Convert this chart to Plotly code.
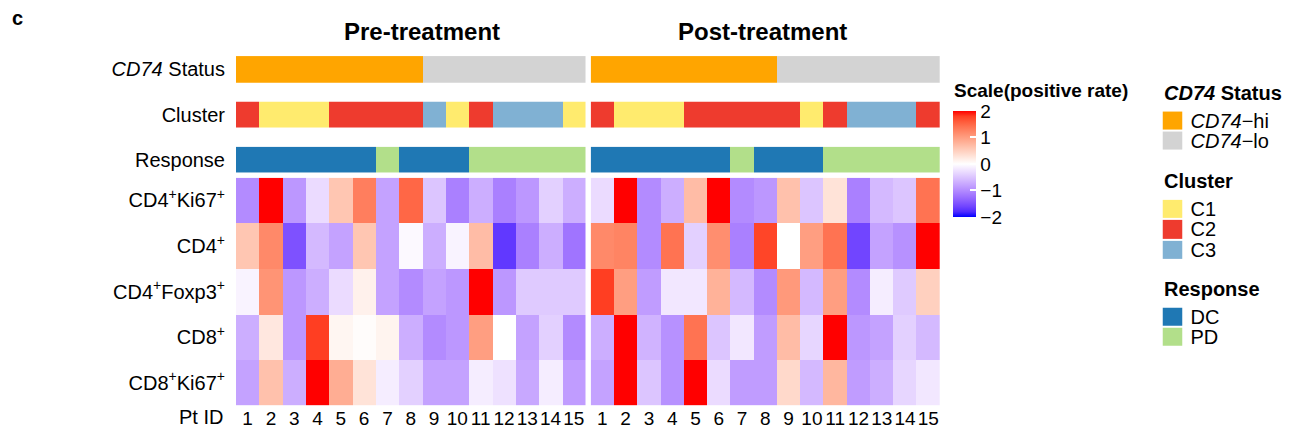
import numpy as np
import plotly.graph_objects as go

# ---------------- data ----------------
pt_ids = list(range(1, 16))
marker_labels = [
    "CD4<sup>+</sup>Ki67<sup>+</sup>",
    "CD4<sup>+</sup>",
    "CD4<sup>+</sup>Foxp3<sup>+</sup>",
    "CD8<sup>+</sup>",
    "CD8<sup>+</sup>Ki67<sup>+</sup>",
]

pre_values = [
    [-1.0, 2.4, -0.9, -0.3, 0.6, 1.3, -0.8, 1.5, -0.5, -1.1, -0.7, -1.1, -0.9, -0.4, -0.7],
    [0.6, 1.2, -1.5, -0.6, -0.8, 0.6, -0.8, -0.05, -0.7, -0.1, 0.7, -1.7, -1.1, -0.7, -1.2],
    [-0.1, 1.1, -0.9, -0.7, -0.3, 0.15, -0.8, -1.0, -0.8, -0.9, 2.4, -0.9, -0.45, -0.45, -0.45],
    [-0.7, 0.25, -0.9, 1.8, 0.1, 0.03, 0.12, -0.7, -1.0, -0.9, 1.0, 0.0, -0.8, -0.4, -1.0],
    [-0.8, 0.65, -0.7, 2.4, 0.85, 0.3, -0.15, -0.4, -0.8, -0.8, -0.15, -0.25, -0.75, -0.15, -0.85],
]

post_values = [
    [-0.3, 2.4, -1.0, -0.7, 0.7, 2.4, -1.0, -0.9, 0.65, -0.5, 0.3, -1.1, -0.6, -0.5, 1.4],
    [1.2, 1.25, -1.0, 1.4, -0.4, 1.15, -1.1, 1.75, 0.0, 1.0, 1.4, -1.6, -0.8, -0.95, 2.2],
    [1.8, 1.0, -0.85, -0.2, -0.2, 0.8, -0.6, -1.0, 1.05, -0.6, 1.0, -1.0, -0.15, -0.45, 0.5],
    [-0.7, 2.4, -0.65, -0.95, 1.4, -0.5, -0.2, -0.85, 0.7, -0.35, 2.4, -0.9, -0.8, -0.4, -0.6],
    [-0.8, 2.4, -0.5, -0.95, 2.4, -0.3, -0.85, -0.85, 0.4, -0.6, 0.75, -0.85, -0.7, -0.35, -0.2],
]

cd74_levels = ["CD74-hi", "CD74-lo"]
cd74_labels = ["<i>CD74</i>\u2212hi", "<i>CD74</i>\u2212lo"]
cd74_colors = ["#FFA500", "#D3D3D3"]
cluster_levels = ["C1", "C2", "C3"]
cluster_colors = ["#FFEB6E", "#EE3B2E", "#80B1D3"]
response_levels = ["DC", "PD"]
response_colors = ["#1F78B4", "#B2DF8A"]

pre_cd74 = ["CD74-hi"] * 8 + ["CD74-lo"] * 7
post_cd74 = ["CD74-hi"] * 8 + ["CD74-lo"] * 7
pre_cluster = ["C2", "C1", "C1", "C1", "C2", "C2", "C2", "C2", "C3", "C1", "C2", "C3", "C3", "C3", "C1"]
post_cluster = ["C2", "C1", "C1", "C1", "C2", "C2", "C2", "C2", "C2", "C1", "C2", "C3", "C3", "C3", "C2"]
pre_response = ["DC"] * 6 + ["PD"] + ["DC"] * 3 + ["PD"] * 5
post_response = ["DC"] * 6 + ["PD"] + ["DC"] * 3 + ["PD"] * 5

# ---------------- helpers ----------------
PAGE_W, PAGE_H = 1295, 437
OFF = 8  # default body margin of the html page
W, H = PAGE_W - 2 * OFF, PAGE_H - 2 * OFF


def fx(px):
    return (px - OFF) / W


def fy(py):
    return 1 - (py - OFF) / H


def srgb_to_lab(rgb):
    c = np.array(rgb, dtype=float) / 255.0
    c = np.where(c > 0.04045, ((c + 0.055) / 1.055) ** 2.4, c / 12.92)
    M = np.array([[0.4124, 0.3576, 0.1805], [0.2126, 0.7152, 0.0722], [0.0193, 0.1192, 0.9505]])
    xyz = M @ c
    xyz = xyz / np.array([0.95047, 1.0, 1.08883])
    f = np.where(xyz > 0.008856, np.cbrt(xyz), 7.787 * xyz + 16 / 116)
    return np.array([116 * f[1] - 16, 500 * (f[0] - f[1]), 200 * (f[1] - f[2])])


def lab_to_srgb(lab):
    L, a, b = lab
    fyv = (L + 16) / 116
    fxv = fyv + a / 500
    fzv = fyv - b / 200
    f = np.array([fxv, fyv, fzv])
    xyz = np.where(f ** 3 > 0.008856, f ** 3, (f - 16 / 116) / 7.787)
    xyz = xyz * np.array([0.95047, 1.0, 1.08883])
    Minv = np.array([[3.2406, -1.5372, -0.4986], [-0.9689, 1.8758, 0.0415], [0.0557, -0.2040, 1.0570]])
    c = Minv @ xyz
    c = np.clip(c, 0, 1)
    c = np.where(c > 0.0031308, 1.055 * c ** (1 / 2.4) - 0.055, 12.92 * c)
    c = np.clip(c, 0, 1)
    return "rgb(%d,%d,%d)" % tuple(int(round(v * 255)) for v in c)


blue, white, red = srgb_to_lab((0, 0, 255)), srgb_to_lab((255, 255, 255)), srgb_to_lab((255, 0, 0))
heat_scale = []
n = 20
for i in range(n + 1):
    t = i / n
    if t <= 0.5:
        lab = blue + (white - blue) * (t / 0.5)
    else:
        lab = white + (red - white) * ((t - 0.5) / 0.5)
    heat_scale.append([t, lab_to_srgb(lab)])


def discrete_scale(colors):
    k = len(colors)
    scale = []
    for i, c in enumerate(colors):
        scale.append([i / k, c])
        scale.append([(i + 1) / k, c])
    return scale


def codes(values, levels):
    return [[levels.index(v) for v in values]]


FONT = "Arial, Liberation Sans, sans-serif"

fig = go.Figure()

# ---------------- main heatmaps ----------------
for values, xa, show in [(pre_values, "x", True), (post_values, "x2", False)]:
    fig.add_trace(go.Heatmap(
        z=values, x=pt_ids, y=list(range(len(marker_labels))),
        xaxis=xa, yaxis="y",
        colorscale=heat_scale, zmin=-2, zmax=2,
        showscale=show,
        colorbar=dict(
            x=fx(952.5), xanchor="left", xref="paper",
            y=fy(166), yanchor="middle", yref="paper",
            thickness=23, thicknessmode="pixels",
            len=106, lenmode="pixels",
            xpad=0, ypad=0, outlinewidth=0,
            tickvals=[-2, -1, 0, 1, 2],
            ticktext=["\u22122", "\u22121", "0", "1", "2"],
            ticks="inside", ticklen=6, tickcolor="white", tickwidth=1.5,
            tickfont=dict(size=19, color="black", family=FONT),
        ),
        hoverinfo="skip",
    ))

# ---------------- annotation bars ----------------
ann_rows = [
    ("y2", pre_cd74, post_cd74, cd74_levels, cd74_colors),
    ("y3", pre_cluster, post_cluster, cluster_levels, cluster_colors),
    ("y4", pre_response, post_response, response_levels, response_colors),
]
for ya, pre_v, post_v, levels, colors in ann_rows:
    for vals, xa in [(pre_v, "x"), (post_v, "x2")]:
        fig.add_trace(go.Heatmap(
            z=codes(vals, levels), x=pt_ids, y=[0],
            xaxis=xa, yaxis=ya,
            colorscale=discrete_scale(colors), zmin=-0.5, zmax=len(levels) - 0.5,
            showscale=False, hoverinfo="skip",
        ))

# ---------------- legend swatches ----------------
leg_groups = [
    ("y5", cd74_levels, cd74_labels, cd74_colors),
    ("y6", cluster_levels, cluster_levels, cluster_colors),
    ("y7", response_levels, response_levels, response_colors),
]
for ya, levels, labels, colors in leg_groups:
    fig.add_trace(go.Heatmap(
        z=[[i] for i in range(len(levels))], x=[0], y=list(range(len(levels))),
        xaxis="x3", yaxis=ya,
        colorscale=discrete_scale(colors), zmin=-0.5, zmax=len(levels) - 0.5,
        showscale=False, hoverinfo="skip", ygap=2,
    ))

# ---------------- layout ----------------
common_x = dict(range=[0.5, 15.5], showgrid=False, zeroline=False, showline=False,
                ticks="", tickvals=pt_ids, tickangle=0,
                tickfont=dict(size=19, color="black", family=FONT),
                fixedrange=True)
common_y = dict(showgrid=False, zeroline=False, showline=False, ticks="",
                tickfont=dict(size=20, color="black", family=FONT), fixedrange=True,
                ticklabelstandoff=10)

layout = dict(
    width=W, height=H,
    margin=dict(l=0, r=0, t=0, b=0),
    paper_bgcolor="white", plot_bgcolor="white",
    font=dict(family=FONT, color="black"),
    xaxis=dict(domain=[fx(236), fx(585.5)], anchor="y", **common_x),
    xaxis2=dict(domain=[fx(590.7), fx(940)], anchor="y", **common_x),
    xaxis3=dict(domain=[fx(1162.5), fx(1182.5)], anchor="y5", range=[-0.5, 0.5], visible=False),
    yaxis=dict(domain=[fy(412), fy(180)], anchor="x", range=[4.5, -0.5],
               tickvals=list(range(len(marker_labels))), ticktext=marker_labels, **common_y),
    yaxis2=dict(domain=[fy(83.3), fy(56)], anchor="x", range=[-0.5, 0.5],
                tickvals=[0], ticktext=["<i>CD74</i> Status"], **common_y),
    yaxis3=dict(domain=[fy(129.3), fy(102.3)], anchor="x", range=[-0.5, 0.5],
                tickvals=[0], ticktext=["Cluster"], **common_y),
    yaxis4=dict(domain=[fy(175), fy(148.3)], anchor="x", range=[-0.5, 0.5],
                tickvals=[0], ticktext=["Response"], **common_y),
)

leg_domains = [(111.5, 152.5), (201.5, 263.5), (311.5, 352.5)]
for (ya, levels, labels, colors), (top, bot) in zip(leg_groups, leg_domains):
    key = "yaxis" + ya[1:]
    layout[key] = dict(domain=[fy(bot), fy(top)], anchor="x3", side="right",
                       range=[len(levels) - 0.5, -0.5],
                       tickvals=list(range(len(levels))), ticktext=labels,
                       showgrid=False, zeroline=False, showline=False, ticks="",
                       tickfont=dict(size=20, color="black", family=FONT),
                       ticklabelstandoff=7, fixedrange=True)

fig.update_layout(**layout)

annotations = [
    dict(text="<b>c</b>", x=fx(10), y=fy(17), xanchor="left", yanchor="middle", font=dict(size=20)),
    dict(text="<b>Pre-treatment</b>", x=fx(422), y=fy(31), xanchor="center", yanchor="middle", font=dict(size=24)),
    dict(text="<b>Post-treatment</b>", x=fx(762), y=fy(31), xanchor="center", yanchor="middle", font=dict(size=24)),
    dict(text="Pt ID", x=fx(225), y=fy(424), xanchor="right", yanchor="middle", font=dict(size=20)),
    dict(text="<b>Scale(positive rate)</b>", x=fx(952), y=fy(91), xanchor="left", yanchor="middle", font=dict(size=19)),
    dict(text="<b><i>CD74</i> Status</b>", x=fx(1162), y=fy(94), xanchor="left", yanchor="middle", font=dict(size=20)),
    dict(text="<b>Cluster</b>", x=fx(1162), y=fy(183), xanchor="left", yanchor="middle", font=dict(size=20)),
    dict(text="<b>Response</b>", x=fx(1162), y=fy(293), xanchor="left", yanchor="middle", font=dict(size=20)),
]
for a in annotations:
    a.update(xref="paper", yref="paper", showarrow=False)
    a["font"].update(family=FONT, color="black")
fig.update_layout(annotations=annotations)

fig.write_html("out.html")
